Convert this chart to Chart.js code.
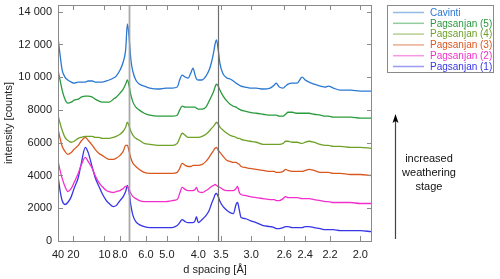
<!DOCTYPE html>
<html>
<head>
<meta charset="utf-8">
<script src="https://cdn.jsdelivr.net/npm/chart.js@4/dist/chart.umd.min.js"></script>
<style>
  html, body { margin: 0; padding: 0; background: #fff; }
</style>
</head>
<body>
<canvas id="xrd" width="500" height="279"></canvas>
<script>
// 2-theta grid (Cu K-alpha, degrees) shared by all patterns
const twoTheta = [
  2.2, 2.5, 2.8, 3.2, 3.6, 4.1, 4.5, 5.1, 5.5, 6.1,
  6.5, 7.1, 7.5, 8.05, 8.5, 9.1, 9.5, 10.1, 10.5, 11.05,
  11.5, 11.85, 12.1, 12.35, 12.6, 12.9, 13.3, 13.8, 14.5, 15.3,
  16.5, 17.6, 18.5, 19.2, 19.55, 19.9, 20.35, 20.75, 21.2, 21.45,
  21.75, 21.95, 22.2, 22.75, 23.3, 23.75, 24.1, 24.4, 24.6, 24.8,
  25.05, 25.3, 25.75, 26.3, 26.75, 27.2, 27.6, 27.8, 28.05, 28.3,
  28.9, 29.6, 30.45, 31.45, 32.45, 33.05, 33.3, 33.75, 34.3, 34.65,
  35.0, 35.6, 36.3, 37.0, 37.45, 38.0, 38.7, 39.6, 40.3, 40.75,
  41.45, 42.45, 43.9, 45.3, 46.85
];

const cavinti = [
  12460, 11360, 10440, 10010, 9830, 9700, 9640, 9700, 9700, 9700,
  9770, 9770, 9700, 9700, 9700, 9770, 9830, 9950, 10070, 10440,
  10930, 11670, 13250, 12400, 11050, 10320, 9830, 9580, 9460, 9340,
  9280, 9340, 9340, 9400, 9830, 10130, 10010, 9950, 10320, 10560,
  10130, 9890, 9830, 9830, 10070, 10440, 10930, 11540, 12030, 12280,
  11670, 10810, 10200, 9950, 9890, 9770, 9640, 9580, 9520, 9460,
  9400, 9340, 9340, 9280, 9340, 9520, 9640, 9400, 9340, 9460,
  9580, 9640, 9640, 10010, 9830, 9700, 9580, 9460, 9400, 9460,
  9340, 9210, 9210, 9150, 9150
];
const pag5 = [
  10440, 9830, 9210, 8660, 8420, 8480, 8600, 8660, 8780, 8850,
  8850, 8780, 8660, 8540, 8480, 8480, 8480, 8660, 8780, 9030,
  9270, 9580, 9830, 9460, 8910, 8480, 8170, 7990, 7800, 7680,
  7620, 7620, 7620, 7680, 7990, 8230, 8170, 8170, 8170, 8170,
  8170, 8110, 8050, 8050, 8170, 8540, 8850, 9150, 9400, 9580,
  9460, 9210, 8850, 8540, 8350, 8230, 8170, 8110, 8050, 7990,
  7930, 7860, 7800, 7740, 7680, 7680, 7680, 7620, 7620, 7740,
  7860, 7860, 7800, 7800, 7800, 7800, 7740, 7680, 7620, 7620,
  7560, 7560, 7560, 7500, 7500
];
const pag4 = [
  7680, 7190, 6760, 6330, 6150, 6030, 6090, 6270, 6330, 6390,
  6390, 6390, 6330, 6330, 6270, 6270, 6270, 6330, 6390, 6520,
  6700, 6950, 7250, 7010, 6700, 6450, 6270, 6150, 5960, 5900,
  5840, 5840, 5840, 5960, 6270, 6580, 6450, 6330, 6330, 6330,
  6330, 6330, 6330, 6390, 6520, 6700, 6880, 7010, 7130, 7250,
  7130, 6950, 6760, 6580, 6450, 6390, 6330, 6270, 6270, 6210,
  6150, 6090, 6030, 5900, 5900, 5900, 5900, 5900, 5960, 6090,
  6090, 6030, 6030, 5960, 6030, 6090, 6030, 5900, 5840, 5840,
  5780, 5780, 5720, 5720, 5660
];
const pag3 = [
  6880, 6270, 5780, 5470, 5290, 5410, 5600, 5840, 6090, 6330,
  6150, 5840, 5600, 5350, 5230, 5050, 4980, 4980, 5050, 5230,
  5470, 5840, 5840, 5470, 5050, 4740, 4550, 4370, 4190, 4130,
  4130, 4130, 4130, 4190, 4430, 4740, 4620, 4550, 4550, 4620,
  4620, 4620, 4620, 4680, 4860, 5110, 5350, 5540, 5660, 5720,
  5540, 5410, 5170, 4920, 4860, 4800, 4800, 4740, 4680, 4550,
  4490, 4430, 4370, 4310, 4250, 4250, 4190, 4190, 4250, 4370,
  4310, 4250, 4250, 4250, 4310, 4370, 4310, 4190, 4190, 4190,
  4130, 4130, 4060, 4060, 4000
];
const pag2 = [
  4920, 4310, 3820, 3330, 3020, 3210, 3570, 4130, 4620, 5110,
  4860, 4430, 4000, 3570, 3330, 3080, 3020, 2960, 3020, 3080,
  3210, 3330, 3330, 3140, 2900, 2710, 2590, 2470, 2410, 2410,
  2410, 2410, 2470, 2530, 2900, 3270, 3140, 3080, 3080, 3080,
  3140, 3270, 3020, 2960, 3080, 3210, 3330, 3390, 3450, 3390,
  3330, 3270, 3140, 3080, 3080, 3080, 3210, 3330, 2960, 2840,
  2780, 2710, 2650, 2590, 2530, 2530, 2470, 2470, 2590, 2710,
  2650, 2650, 2650, 2590, 2590, 2590, 2530, 2470, 2410, 2410,
  2350, 2350, 2350, 2290, 2290
];
const pag1 = [
  4000, 3080, 2470, 2230, 2350, 2710, 3210, 3880, 4680, 5720,
  5410, 4490, 3880, 3330, 2900, 2470, 2290, 2100, 2160, 2470,
  2710, 3020, 3390, 2960, 2160, 1550, 1180, 1000, 880, 820,
  820, 820, 820, 940, 1120, 1310, 1180, 1120, 1120, 1120,
  1240, 1490, 1120, 1310, 1550, 1860, 2290, 2590, 2840, 2900,
  2710, 2410, 2100, 1860, 1730, 1670, 2250, 2350, 1900, 1430,
  1370, 1240, 1120, 940, 880, 820, 750, 750, 820, 880,
  880, 820, 820, 820, 880, 880, 820, 750, 690, 690,
  690, 630, 630, 630, 570
];

const seriesNames = ['Cavinti', 'Pagsanjan (5)', 'Pagsanjan (4)', 'Pagsanjan (3)', 'Pagsanjan (2)', 'Pagsanjan (1)'];
const seriesColors = ['#2a78d2', '#2a9a3e', '#6ea128', '#da5720', '#f22fca', '#3636e6'];

// x axis is labelled in d spacing (Å)
const dTicks = [40, 20, 10, 8, 6, 5, 4, 3.5, 3, 2.6, 2.4, 2.2, 2.0];
const dTickLabels = ['40', '20', '10', '8.0', '6.0', '5.0', '4.0', '3.5', '3.0', '2.6', '2.4', '2.2', '2.0'];
const yTicks = [0, 2000, 4000, 6000, 8000, 10000, 12000, 14000];
const yTickLabels = ['0', '2000', '4000', '6000', '8000', '10 000', '12 000', '14 000'];
const markerD = [7.17, 3.56];   // gray reference lines

const LAMBDA = 1.5406;
function twoThetaOf(d) {
  return 2 * Math.asin(LAMBDA / (2 * d)) * 180 / Math.PI;
}

Chart.defaults.font.family = "'Liberation Sans', Arial, sans-serif";
Chart.defaults.font.size = 11;
Chart.defaults.color = '#222';

const frameColor = '#8a8a8a';

const decor = {
  id: 'decor',
  afterDatasetsDraw(chart) {
    const ctx = chart.ctx, a = chart.chartArea;
    const xs = chart.scales.x, ys = chart.scales.y;
    ctx.save();
    // reference lines
    markerD.forEach(function(d, i) {
      const px = Math.round(xs.getPixelForValue(twoThetaOf(d))) + 0.5;
      ctx.strokeStyle = i == 0 ? 'rgba(160,160,160,0.9)' : '#6e6e6e';
      ctx.lineWidth = i == 0 ? 1.8 : 1.2;
      ctx.beginPath();
      ctx.moveTo(px, a.top);
      ctx.lineTo(px, a.bottom);
      ctx.stroke();
    });
    // frame
    ctx.strokeStyle = frameColor;
    ctx.lineWidth = 1;
    ctx.strokeRect(a.left + 0.5, a.top + 0.5, a.right - a.left - 1, a.bottom - a.top);
    // inward ticks on all sides
    ctx.beginPath();
    dTicks.forEach(function(d) {
      const px = Math.round(xs.getPixelForValue(twoThetaOf(d))) + 0.5;
      ctx.moveTo(px, a.bottom); ctx.lineTo(px, a.bottom - 5);
      ctx.moveTo(px, a.top); ctx.lineTo(px, a.top + 5);
    });
    yTicks.forEach(function(v) {
      const py = Math.round(ys.getPixelForValue(v)) + 0.5;
      ctx.moveTo(a.left, py); ctx.lineTo(a.left + 5, py);
      ctx.moveTo(a.right, py); ctx.lineTo(a.right - 5, py);
    });
    ctx.stroke();
    ctx.restore();
  },
  afterDraw(chart) {
    const ctx = chart.ctx;
    ctx.save();
    // legend box
    ctx.strokeStyle = frameColor;
    ctx.lineWidth = 1;
    ctx.strokeRect(387.5, 5.5, 106, 67);
    ctx.font = "10px 'Liberation Sans', Arial, sans-serif";
    ctx.textBaseline = 'middle';
    ctx.textAlign = 'left';
    seriesNames.forEach(function(name, i) {
      const y = 12.5 + i * 10.8;
      ctx.strokeStyle = seriesColors[i];
      ctx.globalAlpha = 0.5;
      ctx.lineWidth = 1.5;
      ctx.beginPath();
      ctx.moveTo(393, y); ctx.lineTo(424, y);
      ctx.stroke();
      ctx.globalAlpha = 1;
      ctx.fillStyle = seriesColors[i];
      ctx.fillText(name, 430, y + 0.5);
    });
    // weathering arrow
    ctx.strokeStyle = '#444';
    ctx.lineWidth = 1.2;
    ctx.beginPath();
    ctx.moveTo(395.5, 120); ctx.lineTo(395.5, 239);
    ctx.stroke();
    ctx.fillStyle = '#000';
    ctx.beginPath();
    ctx.moveTo(395.5, 114);
    ctx.lineTo(392.5, 123);
    ctx.lineTo(395.5, 121);
    ctx.lineTo(398.5, 123);
    ctx.closePath();
    ctx.fill();
    ctx.fillStyle = '#111';
    ctx.font = "11px 'Liberation Sans', Arial, sans-serif";
    ctx.textAlign = 'center';
    ['increased', 'weathering', 'stage'].forEach(function(t, i) {
      ctx.fillText(t, 429, 159 + i * 13.8);
    });
    ctx.restore();
  }
};

const datasets = [cavinti, pag5, pag4, pag3, pag2, pag1].map(function(vals, i) {
  return {
    label: seriesNames[i],
    data: vals.map(function(v, j) { return {x: twoTheta[j], y: v}; }),
    borderColor: seriesColors[i],
    borderWidth: 1.3,
    pointRadius: 0,
    fill: false,
    cubicInterpolationMode: 'monotone'
  };
});

new Chart(document.getElementById('xrd'), {
  type: 'line',
  data: { datasets: datasets },
  options: {
    responsive: false,
    animation: false,
    layout: { padding: { top: 5, right: 128, left: 0, bottom: 0 } },
    plugins: { legend: { display: false }, tooltip: { enabled: false } },
    scales: {
      x: {
        type: 'linear',
        min: twoThetaOf(40),
        max: 46.97,
        grid: { display: false, drawTicks: false },
        border: { display: false },
        afterBuildTicks: function(s) {
          s.ticks = dTicks.map(function(d) { return {value: twoThetaOf(d)}; });
        },
        ticks: {
          autoSkip: false,
          maxRotation: 0,
          padding: 7,
          callback: function(v, i) { return dTickLabels[i]; }
        },
        title: { display: true, text: 'd spacing [Å]', padding: { top: 0, bottom: 2 } },
        afterFit: function(s) { s.height = 38; s.paddingLeft = 0; s.paddingRight = 0; }
      },
      y: {
        min: 0,
        max: 14410,
        grid: { display: false, drawTicks: false },
        border: { display: false },
        afterBuildTicks: function(s) {
          s.ticks = yTicks.map(function(v) { return {value: v}; });
        },
        ticks: {
          padding: 6,
          callback: function(v, i) { return yTickLabels[i]; }
        },
        title: { display: true, text: 'intensity [counts]', padding: { top: 2, bottom: 0 } },
        afterFit: function(s) { s.width = 58; s.paddingTop = 0; s.paddingBottom = 0; }
      }
    }
  },
  plugins: [decor]
});
</script>
</body>
</html>
